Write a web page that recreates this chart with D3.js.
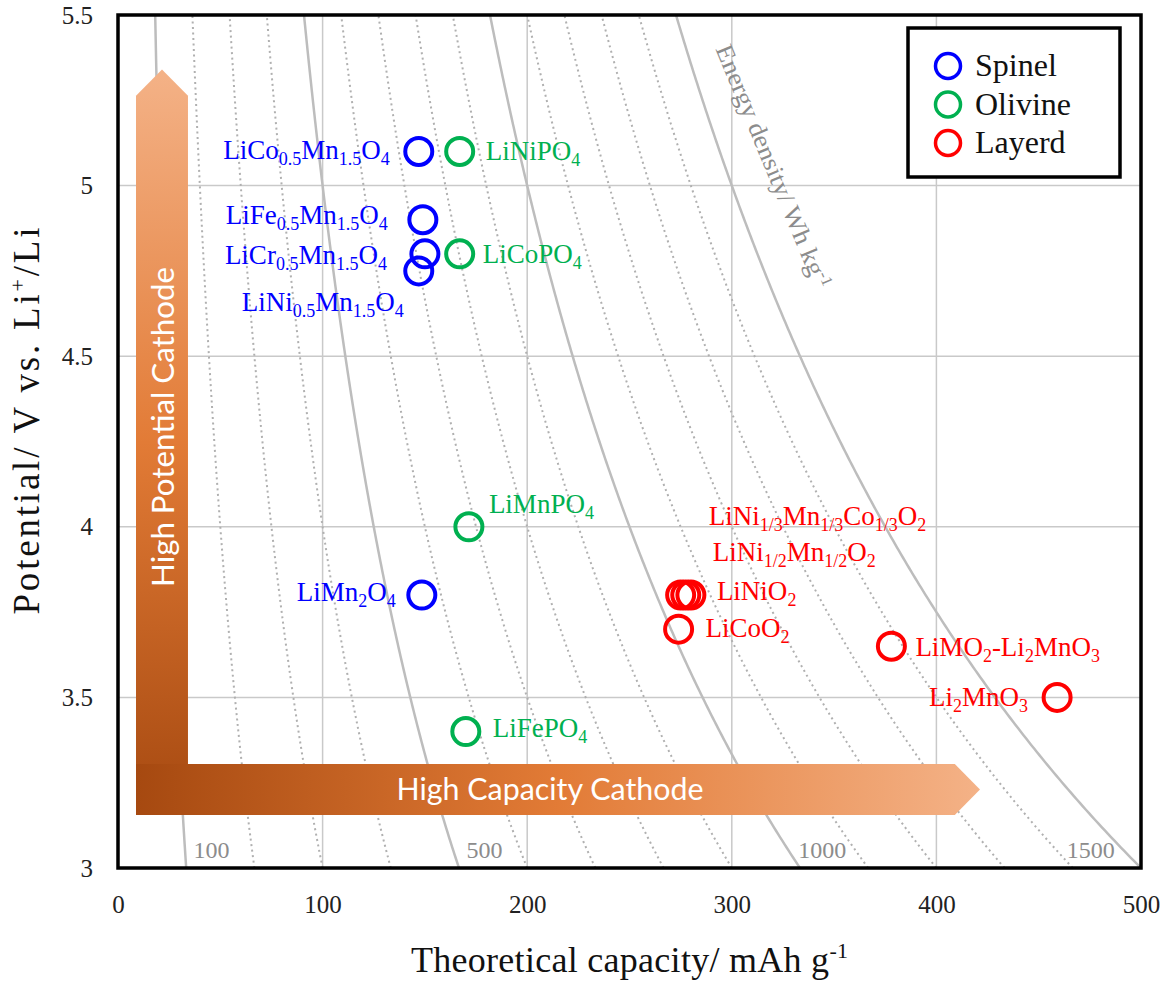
<!DOCTYPE html>
<html><head><meta charset="utf-8">
<script src="https://cdn.jsdelivr.net/npm/d3@7"></script>
<style>body{margin:0;background:#fff}svg{display:block}</style>
</head><body>
<svg id="chart" width="1171" height="985"></svg>
<script>
// ---------- data ----------
const xTicks = [0, 100, 200, 300, 400, 500];
const yTicks = [3, 3.5, 4, 4.5, 5, 5.5];
const yTickLabels = ["3", "3.5", "4", "4.5", "5", "5.5"];
const xGrid = [100, 200, 300, 400];
const yGrid = [3.5, 4, 4.5, 5];

const energyLevels = [100, 200, 300, 400, 500, 600, 700, 800, 900, 1000, 1100, 1200, 1300, 1400, 1500];
const energySolid = [100, 500, 1000, 1500];
const energyLabelValues = [100, 500, 1000, 1500];

const seriesNames = ["Spinel", "Olivine", "Layerd"];

const spinelLabels = ["LiCo_{0.5}Mn_{1.5}O_{4}", "LiFe_{0.5}Mn_{1.5}O_{4}", "LiCr_{0.5}Mn_{1.5}O_{4}", "LiNi_{0.5}Mn_{1.5}O_{4}", "LiMn_{2}O_{4}"];
const spinelCapacity = [147, 149, 150, 147, 148.5];
const spinelPotential = [5.1, 4.9, 4.8, 4.75, 3.8];

const olivineLabels = ["LiNiPO_{4}", "LiCoPO_{4}", "LiMnPO_{4}", "LiFePO_{4}"];
const olivineCapacity = [167, 167, 171.5, 170];
const olivinePotential = [5.1, 4.8, 4.0, 3.4];

const layeredLabels = ["LiNi_{1/3}Mn_{1/3}Co_{1/3}O_{2}", "LiNi_{1/2}Mn_{1/2}O_{2}", "LiNiO_{2}", "LiCoO_{2}", "LiMO_{2}-Li_{2}MnO_{3}", "Li_{2}MnO_{3}"];
const layeredCapacity = [275, 277.5, 280, 274, 378, 459];
const layeredPotential = [3.8, 3.8, 3.8, 3.7, 3.65, 3.5];

// ---------- layout / style (not data) ----------
const colors = {Spinel: "#0000FF", Olivine: "#00B050", Layerd: "#FF0000"};
// label placement: [anchor, dx, dy(baseline)]
const spinelLabelPos = [["end", -29, 8], ["end", -35, 4], ["end", -38, 10], ["end", -15, 40], ["end", -26, 6]];
const olivineLabelPos = [["start", 26, 9], ["start", 23, 9], ["start", 20, -14], ["start", 27, 5]];
const layeredLabelPos = [["start", 28, -70], ["start", 27, -34], ["start", 26, 5], ["start", 27, 8], ["start", 24, 10], ["end", -29, 9]];
const energyLabelPos = [["start", 8], ["start", 11], ["start", 5], ["end", -16]];

const W = 1171, H = 985;
const P = {left: 118, top: 15, right: 1141, bottom: 868};
const svg = d3.select("#chart");
const x = d3.scaleLinear().domain([0, 500]).range([P.left, P.right]);
const y = d3.scaleLinear().domain([3, 5.5]).range([P.bottom, P.top]);
const serif = "'Liberation Serif','Times New Roman',serif";
const sans = "Lato,'Open Sans',sans-serif";

function rich(sel, str, base, small, subShift, supShift) {
  const parts = str.split(/(_\{[^}]*\}|\^\{[^}]*\})/).filter(s => s.length);
  let cur = 0;
  parts.forEach(p => {
    let target = 0, size = base, t = p;
    if (p.startsWith("_{")) { target = subShift; size = small; t = p.slice(2, -1); }
    else if (p.startsWith("^{")) { target = supShift; size = small; t = p.slice(2, -1); }
    sel.append("tspan").attr("dy", target - cur).attr("font-size", size).text(t);
    cur = target;
  });
}

const defs = svg.append("defs");
defs.append("clipPath").attr("id", "plotClip").append("rect")
  .attr("x", P.left).attr("y", P.top).attr("width", P.right - P.left).attr("height", P.bottom - P.top);
const gStops = [[0, "#A64910"], [0.5, "#E27B36"], [1, "#F4B287"]];
const gv = defs.append("linearGradient").attr("id", "gradV").attr("x1", 0).attr("y1", 1).attr("x2", 0).attr("y2", 0);
gStops.forEach(s => gv.append("stop").attr("offset", s[0]).attr("stop-color", s[1]));
const gh = defs.append("linearGradient").attr("id", "gradH").attr("x1", 0).attr("y1", 0).attr("x2", 1).attr("y2", 0);
gStops.forEach(s => gh.append("stop").attr("offset", s[0]).attr("stop-color", s[1]));

// gridlines
const grid = svg.append("g");
grid.selectAll(".gx").data(xGrid).join("line")
  .attr("x1", d => x(d)).attr("x2", d => x(d)).attr("y1", P.top).attr("y2", P.bottom)
  .attr("stroke", "#C9C9C9").attr("stroke-width", 1.5);
grid.selectAll(".gy").data(yGrid).join("line")
  .attr("y1", d => y(d)).attr("y2", d => y(d)).attr("x1", P.left).attr("x2", P.right)
  .attr("stroke", "#C9C9C9").attr("stroke-width", 1.5);

// iso-energy curves (E = V * C)
const vSamples = d3.range(3, 5.5001, 0.01);
const line = d3.line().x(d => x(d[0])).y(d => y(d[1]));
const curves = svg.append("g").attr("clip-path", "url(#plotClip)");
curves.selectAll("path").data(energyLevels).join("path")
  .attr("d", E => line(vSamples.map(v => [E / v, v])))
  .attr("fill", "none")
  .attr("stroke", E => energySolid.includes(E) ? "#BDBDBD" : "#B0B0B0")
  .attr("stroke-width", E => energySolid.includes(E) ? 2.5 : 2)
  .attr("stroke-dasharray", E => energySolid.includes(E) ? null : "2,3.5");

// arrows
const arrows = svg.append("g");
const vA = {x0: 8.8, x1: 34.2, tipX: 21.5, tipV: 5.34, shV: 5.263, botV: 3.155};
arrows.append("path").attr("fill", "url(#gradV)").attr("d",
  `M${x(vA.x0)},${y(vA.botV)}L${x(vA.x0)},${y(vA.shV)}L${x(vA.tipX)},${y(vA.tipV)}L${x(vA.x1)},${y(vA.shV)}L${x(vA.x1)},${y(vA.botV)}Z`);
const hA = {x0: 8.8, bodyEnd: 409, tip: 421.3, topV: 3.305, botV: 3.155, midV: 3.23};
arrows.append("path").attr("fill", "url(#gradH)").attr("d",
  `M${x(hA.x0)},${y(hA.topV)}L${x(hA.bodyEnd)},${y(hA.topV)}L${x(hA.tip)},${y(hA.midV)}L${x(hA.bodyEnd)},${y(hA.botV)}L${x(hA.x0)},${y(hA.botV)}Z`);
arrows.append("text").attr("transform", `translate(${x(vA.tipX) + 12},427) rotate(-90)`)
  .attr("text-anchor", "middle").attr("font-family", sans).attr("font-size", 30)
  .attr("textLength", 320).attr("lengthAdjust", "spacingAndGlyphs")
  .attr("fill", "#fff").text("High Potential Cathode");
arrows.append("text").attr("x", 550).attr("y", y(hA.midV) + 10)
  .attr("text-anchor", "middle").attr("font-family", sans).attr("font-size", 30)
  .attr("textLength", 307).attr("lengthAdjust", "spacingAndGlyphs")
  .attr("fill", "#fff").text("High Capacity Cathode");

// energy labels
const eLab = svg.append("g");
energyLabelValues.forEach((E, i) => {
  const v = 3.03;
  eLab.append("text").attr("x", x(E / v) + energyLabelPos[i][1]).attr("y", y(v))
    .attr("text-anchor", energyLabelPos[i][0]).attr("font-family", serif).attr("font-size", 24)
    .attr("fill", "#8C8C8C").text(E);
});
const edT = eLab.append("text").attr("transform", `translate(${x(1500 / 5.41) + 30},${y(5.41) + 3}) rotate(67.5)`)
  .attr("font-family", serif).attr("fill", "#8C8C8C")
  .attr("textLength", 262).attr("lengthAdjust", "spacingAndGlyphs");
rich(edT, "Energy density/ Wh kg^{-1}", 25, 16, 0, -9);

// axes
const xAxis = svg.append("g").attr("transform", `translate(0,${P.bottom})`)
  .call(d3.axisBottom(x).tickValues(xTicks).tickSize(0).tickPadding(27));
const yAxis = svg.append("g").attr("transform", `translate(${P.left},0)`)
  .call(d3.axisLeft(y).tickValues(yTicks).tickFormat((d, i) => yTickLabels[i]).tickSize(0).tickPadding(25));
[xAxis, yAxis].forEach(a => {
  a.select(".domain").remove();
  a.selectAll("text").attr("font-family", serif).attr("font-size", 25).attr("fill", "#222");
});

// frame
svg.append("rect").attr("x", P.left).attr("y", P.top).attr("width", P.right - P.left).attr("height", P.bottom - P.top)
  .attr("fill", "none").attr("stroke", "#000").attr("stroke-width", 3.5);

// axis titles
const xt = svg.append("text").attr("x", (P.left + P.right) / 2).attr("y", 972).attr("text-anchor", "middle")
  .attr("font-family", serif).attr("fill", "#111")
  .attr("textLength", 437).attr("lengthAdjust", "spacing");
rich(xt, "Theoretical capacity/ mAh g^{-1}", 36, 22, 0, -14);
const yt = svg.append("text").attr("transform", "translate(39,421) rotate(-90)").attr("text-anchor", "middle")
  .attr("font-family", serif).attr("fill", "#111")
  .attr("textLength", 387).attr("lengthAdjust", "spacing");
rich(yt, "Potential/ V vs. Li^{+}/Li", 37, 22, 0, -14);

// points + labels
function drawSeries(name, caps, pots, labels, pos) {
  const c = colors[name];
  const g = svg.append("g");
  g.selectAll("circle").data(caps).join("circle")
    .attr("cx", d => x(d)).attr("cy", (d, i) => y(pots[i])).attr("r", 13.5)
    .attr("fill", "none").attr("stroke", c).attr("stroke-width", 4);
  labels.forEach((lab, i) => {
    const t = g.append("text").attr("x", x(caps[i]) + pos[i][1]).attr("y", y(pots[i]) + pos[i][2])
      .attr("text-anchor", pos[i][0]).attr("font-family", serif).attr("fill", c);
    rich(t, lab, 27, 18, 6, -10);
  });
}
drawSeries("Spinel", spinelCapacity, spinelPotential, spinelLabels, spinelLabelPos);
drawSeries("Olivine", olivineCapacity, olivinePotential, olivineLabels, olivineLabelPos);
drawSeries("Layerd", layeredCapacity, layeredPotential, layeredLabels, layeredLabelPos);

// legend
const lg = svg.append("g");
lg.append("rect").attr("x", 908).attr("y", 28).attr("width", 212).attr("height", 149)
  .attr("fill", "#fff").attr("stroke", "#000").attr("stroke-width", 3.5);
seriesNames.forEach((n, i) => {
  const cy = 66 + i * 38.5;
  lg.append("circle").attr("cx", 948).attr("cy", cy).attr("r", 12.5)
    .attr("fill", "none").attr("stroke", colors[n]).attr("stroke-width", 3.5);
  lg.append("text").attr("x", 975).attr("y", cy + 10).attr("font-family", serif).attr("font-size", 32)
    .attr("fill", "#111").text(n);
});
</script>
</body></html>
